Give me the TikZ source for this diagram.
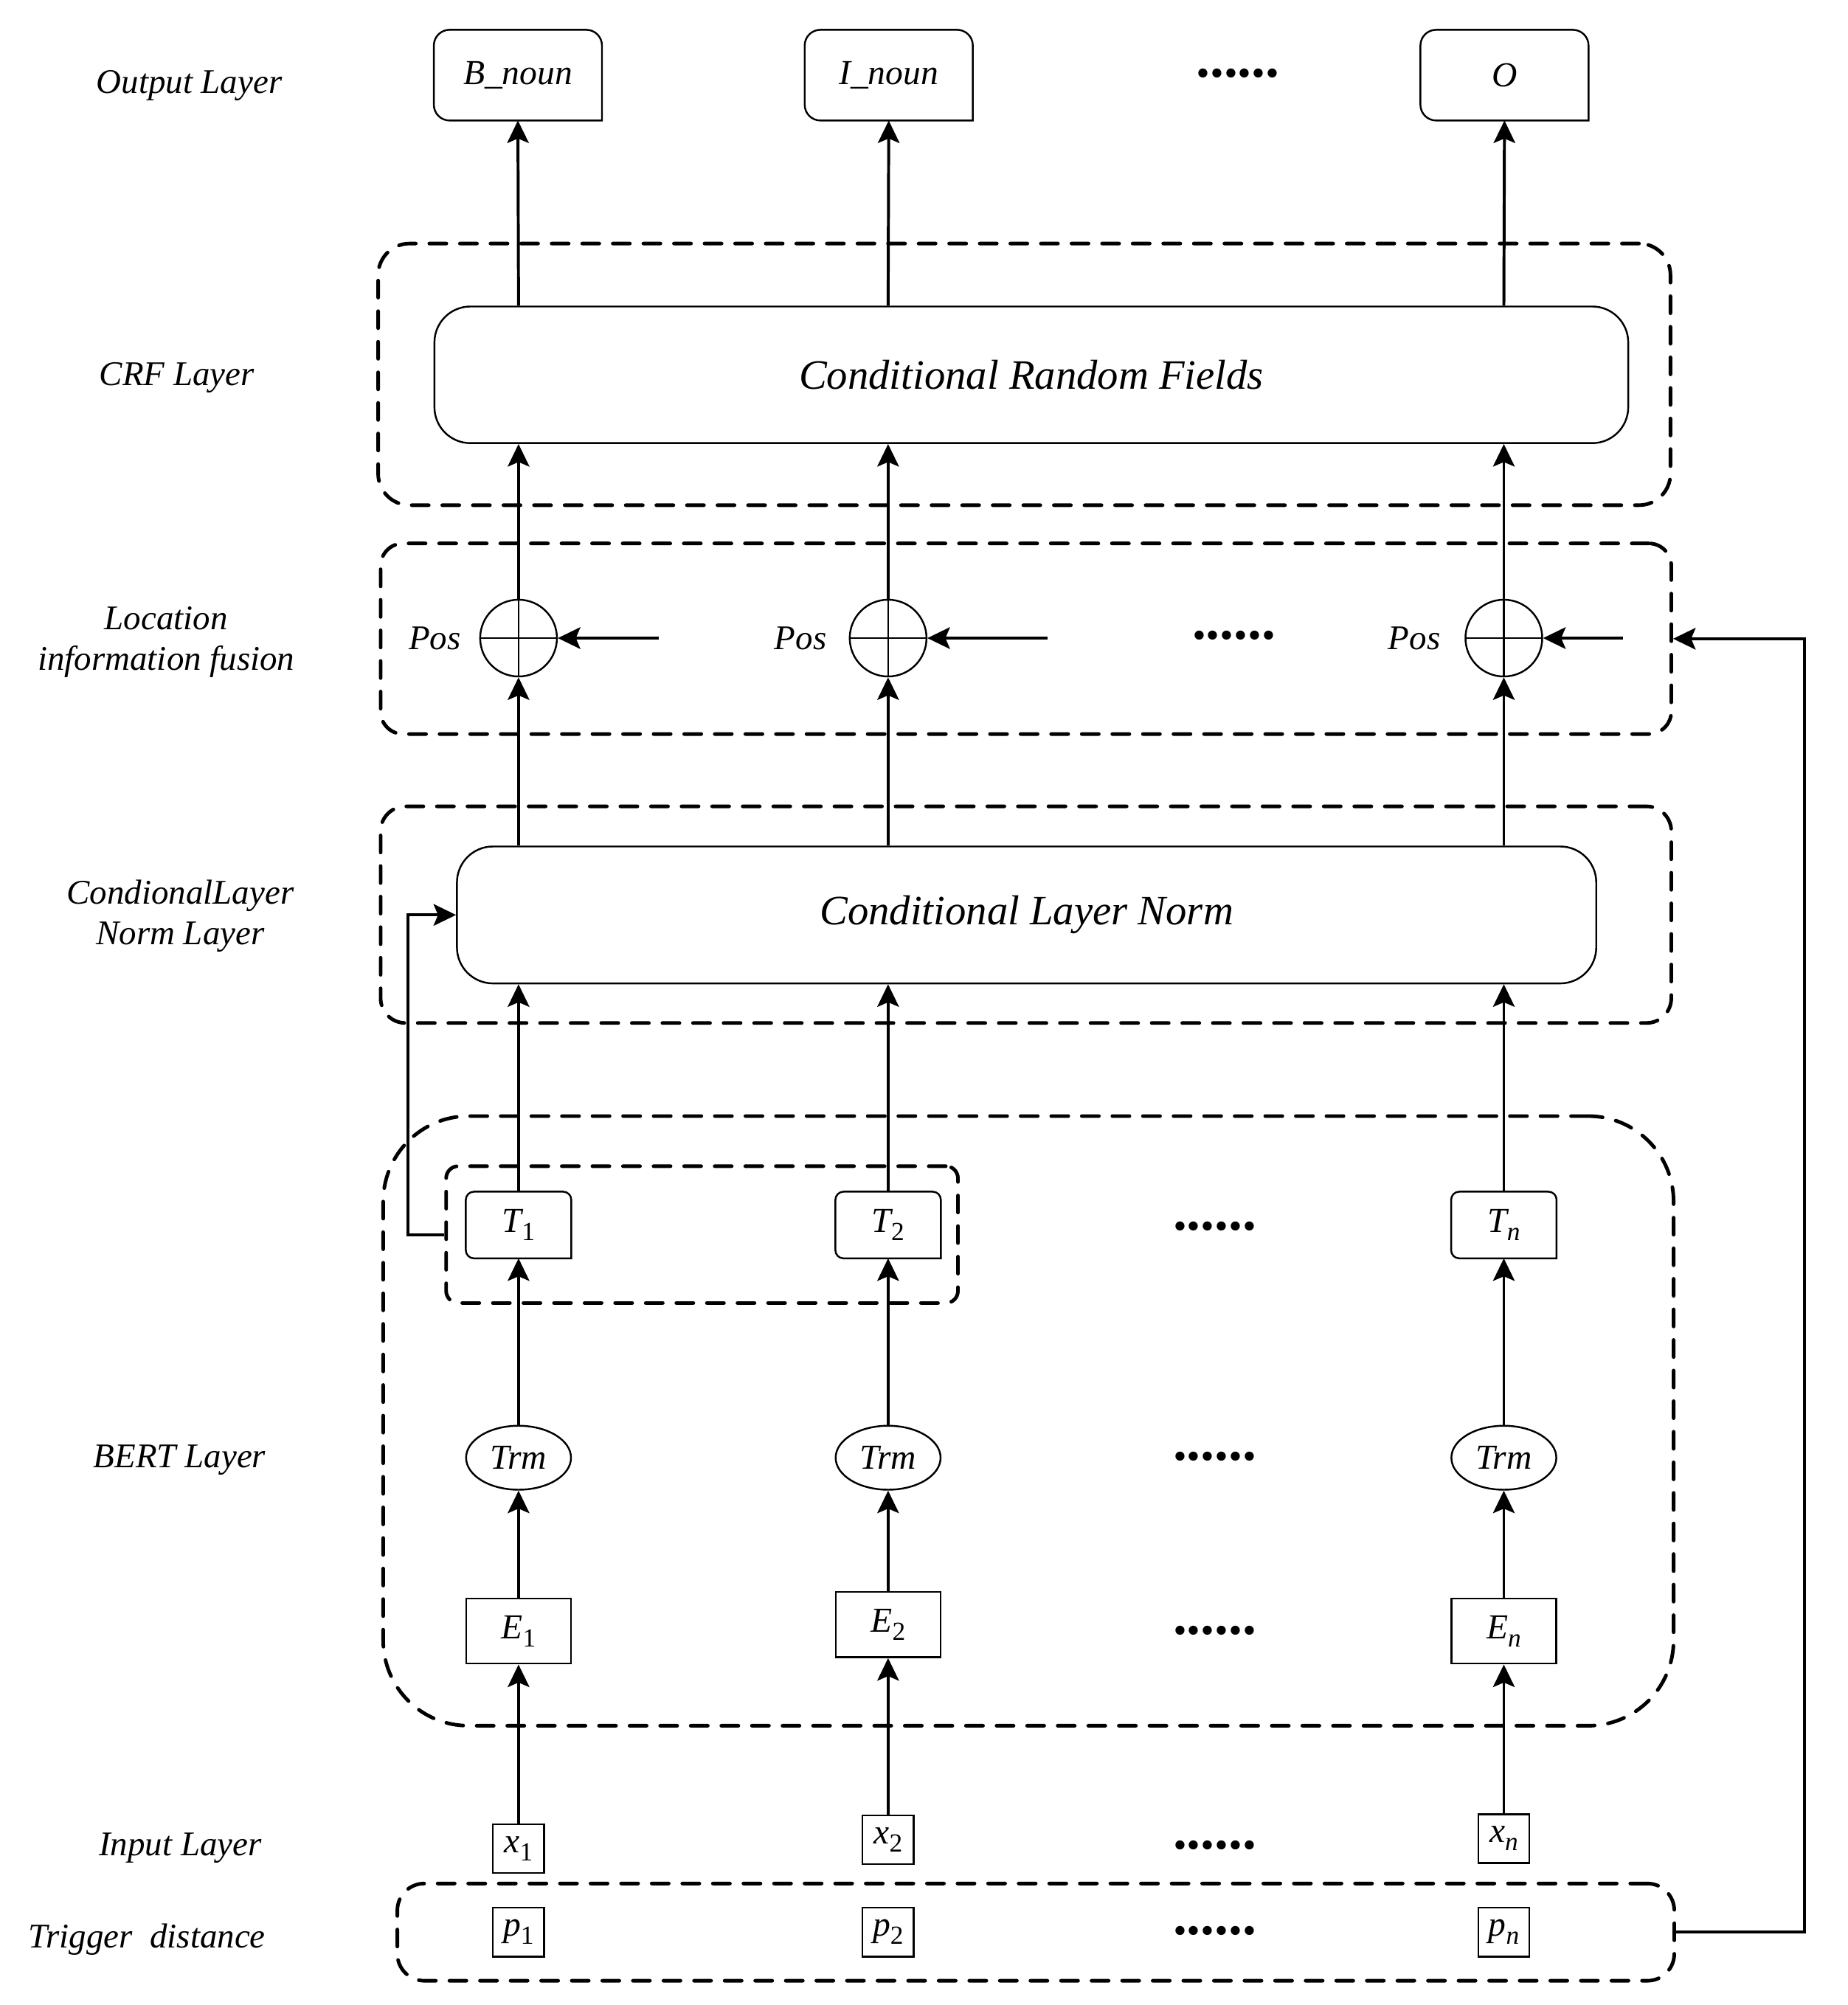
\documentclass[tikz,border=0pt]{standalone}
\usepackage{fontspec}
\setmainfont{Liberation Serif}
\usetikzlibrary{arrows.meta,calc,shapes.geometric}
\newcommand{\connectup}[2]{%
  \draw[->, line width=0.65pt] (#1) -- (#2)}
\newcommand{\tagframe}[2][3.5pt]{%
  \draw[thin, rounded corners=#1, line cap=rect] (#2.south east) -- (#2.south west)
    -- (#2.north west) -- (#2.north east) -- (#2.south east)}
\newcommand{\tok}[2]{\textit{#1}\raisebox{-0.5ex}{\fontsize{5.8}{6}\selectfont\upshape #2}}

\begin{document}
\begin{tikzpicture}[x=0.01cm, y=-0.01cm,
    >={Stealth[length=5pt, width=4.8pt, inset=1pt]},
    every node/.style={font=\fontsize{7.8}{9.4}\selectfont\itshape},
    lab/.style={font=\fontsize{7.7}{8.96}\selectfont\itshape, align=center, inner sep=0pt},
    outbox/.style={minimum width=1.3cm, minimum height=0.695cm, inner sep=0pt},
    bigbox/.style={draw, thin, rounded corners=8pt, inner sep=0pt,
      font=\fontsize{9.3}{11}\selectfont\itshape},
    group/.style={draw, line width=0.8pt, dash pattern=on 3.8pt off 3pt,
      line cap=round, inner sep=0pt},
    tbox/.style={minimum width=0.81cm, minimum height=0.507cm, inner sep=0pt},
    ebox/.style={draw, thin, minimum width=0.82cm, minimum height=0.51cm, inner sep=0pt},
    trm/.style={draw, thin, ellipse, minimum width=0.82cm, minimum height=0.5cm, inner sep=0pt},
    inbox/.style={draw, thin, minimum width=0.4cm, minimum height=0.38cm, inner sep=0pt},
    plus/.style={draw, thin, circle, minimum size=0.6cm, inner sep=0pt,
      path picture={\draw[thin] (path picture bounding box.north) -- (path picture bounding box.south)
        (path picture bounding box.west) -- (path picture bounding box.east);}},
    dots/.style={font=\fontsize{12.4}{13}\selectfont\bfseries, inner sep=0pt}]
  \useasboundingbox (0,0) rectangle (1445,1568);

  % layer names
  \node[lab, anchor=base] (outname) at (148,72.9) {Output Layer};
  \node[lab, anchor=base] (crfname) at (138.3,301.4) {CRF Layer};
  \node[lab] (fusename) at (130,502) {Location\\information fusion};
  \node[lab] (clnname) at (141,716.5) {CondionalLayer\\Norm Layer};
  \node[lab, anchor=base] (bertname) at (140.5,1148) {BERT Layer};
  \node[lab, anchor=base] (inname) at (141,1451) {Input Layer};
  \node[lab, anchor=base] (trigname) at (115,1523) {Trigger\ \ distance};

  % output layer
  \node[outbox] (bnoun) at (405,58.75) {B\_noun};
  \node[outbox] (inoun) at (695,58.75) {I\_noun};
  \node[outbox] (olab) at (1176.5,58.75) {O};
  \node[dots] (odots) at (968,57.5) {......};
  \tagframe{bnoun};
  \tagframe{inoun};
  \tagframe{olab};

  % crf layer
  \node[group, rounded corners=7pt, minimum width=10.1cm, minimum height=2.045cm] (crfgrp) at (801,292.75) {};
  \node[bigbox, minimum width=9.33cm, minimum height=1.068cm] (crf) at (806.5,293.1) {Conditional Random Fields};

  % location information fusion
  \node[group, rounded corners=5pt, minimum width=10.087cm, minimum height=1.49cm] (fusegrp) at (802.3,499.5) {};
  \node[plus] (add1) at (405.5,499) {};
  \node[plus] (add2) at (694.5,499) {};
  \node[plus] (add3) at (1176,499) {};
  \node[lab] (pos1) at (340,499) {Pos};
  \node[lab] (pos2) at (626,499) {Pos};
  \node[lab] (pos3) at (1106,499) {Pos};
  \node[dots] (fdots) at (965,497) {......};
  \coordinate (pin1) at (515,499);
  \coordinate (pin2) at (819,499);
  \coordinate (pin3) at (1269,499);

  % conditional layer norm
  \node[group, rounded corners=5.5pt, minimum width=10.087cm, minimum height=1.693cm] (clngrp) at (802.3,715.3) {};
  \node[bigbox, minimum width=8.904cm, minimum height=1.07cm] (cln) at (802.8,715.5) {Conditional Layer Norm};

  % bert layer
  \node[group, rounded corners=19pt, minimum width=10.085cm, minimum height=4.765cm] (bertgrp) at (804.2,1111.2) {};
  \node[group, rounded corners=2.7pt, minimum width=4cm, minimum height=1.07cm] (tgrp) at (549,965.5) {};
  \node[tbox] (t1) at (405.5,958) {\tok{T}{1}};
  \node[tbox] (t2) at (694.5,958) {\tok{T}{2}};
  \node[tbox] (t3) at (1176,958) {\tok{T}{\itshape n}};
  \tagframe[1.8pt]{t1};
  \tagframe[1.8pt]{t2};
  \tagframe[1.8pt]{t3};
  \node[dots] (tdots) at (950,959) {......};
  \node[trm] (trm1) at (405.5,1140) {Trm};
  \node[trm] (trm2) at (694.5,1140) {Trm};
  \node[trm] (trm3) at (1176,1140) {Trm};
  \node[dots] (mdots) at (950,1139) {......};
  \node[ebox] (e1) at (405.5,1275.5) {\tok{E}{1}};
  \node[ebox] (e2) at (694.5,1270.5) {\tok{E}{2}};
  \node[ebox] (e3) at (1176,1275.5) {\tok{E}{\itshape n}};
  \node[dots] (edots) at (950,1275) {......};

  % input layer
  \node[inbox] (x1) at (405.5,1445.8) {\tok{x}{1}};
  \node[inbox] (x2) at (694.5,1438.7) {\tok{x}{2}};
  \node[inbox] (x3) at (1176,1437.8) {\tok{x}{\itshape n}};
  \node[dots] (xdots) at (950,1443) {......};

  % trigger distance
  \node[group, rounded corners=6pt, minimum width=9.98cm, minimum height=0.76cm] (triggrp) at (810,1511) {};
  \node[inbox, minimum height=0.385cm] (p1) at (405.5,1511) {\tok{p}{1}};
  \node[inbox, minimum height=0.385cm] (p2) at (694.5,1511) {\tok{p}{2}};
  \node[inbox, minimum height=0.385cm] (p3) at (1176,1511) {\tok{p}{\itshape n}};
  \node[dots] (pdots) at (950,1510) {......};

  \coordinate (clnturn) at (319,0);
  \coordinate (fbturn) at (1411,0);

  \connectup{x1.north}{e1.south};
  \connectup{x2.north}{e2.south};
  \connectup{x3.north}{e3.south};
  \connectup{e1.north}{trm1.south};
  \connectup{e2.north}{trm2.south};
  \connectup{e3.north}{trm3.south};
  \connectup{trm1.north}{t1.south};
  \connectup{trm2.north}{t2.south};
  \connectup{trm3.north}{t3.south};
  \connectup{t1.north}{cln.south -| t1};
  \connectup{t2.north}{cln.south -| t2};
  \connectup{t3.north}{cln.south -| t3};
  \connectup{cln.north -| add1}{add1.south};
  \connectup{cln.north -| add2}{add2.south};
  \connectup{cln.north -| add3}{add3.south};
  \connectup{pin1}{add1.east};
  \connectup{pin2}{add2.east};
  \connectup{pin3}{add3.east};
  \connectup{add1.north}{crf.south -| add1};
  \connectup{add2.north}{crf.south -| add2};
  \connectup{add3.north}{crf.south -| add3};
  \connectup{crf.north -| add1}{bnoun.south};
  \connectup{crf.north -| add2}{inoun.south};
  \connectup{crf.north -| add3}{olab.south};

  \draw[->, line width=0.65pt] (tgrp.west) -- (tgrp.west -| clnturn) |- (cln.west);
  \draw[->, line width=0.65pt] (triggrp.east) -- (triggrp.east -| fbturn) |- (fusegrp.east);
\end{tikzpicture}
\end{document}
